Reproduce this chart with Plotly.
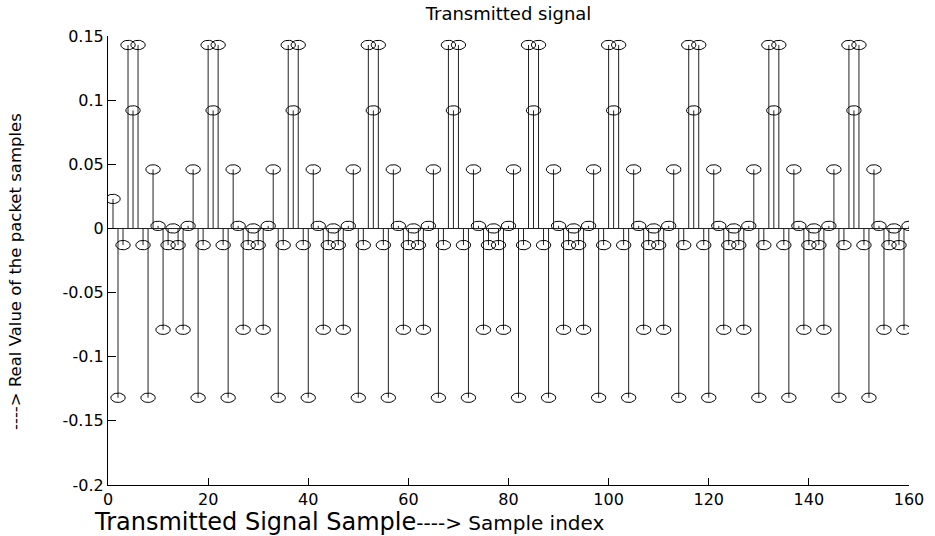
import numpy as np
import plotly.graph_objects as go

# Real part of the transmitted preamble (short training symbols), samples 1..160
sample_index = list(range(1, 161))
real_values = [
    0.023, -0.132, -0.013, 0.143, 0.092, 0.143, -0.013, -0.132, 0.046, 0.002, -0.079, -0.013, 0.000, -0.013, -0.079, 0.002,
    0.046, -0.132, -0.013, 0.143, 0.092, 0.143, -0.013, -0.132, 0.046, 0.002, -0.079, -0.013, 0.000, -0.013, -0.079, 0.002,
    0.046, -0.132, -0.013, 0.143, 0.092, 0.143, -0.013, -0.132, 0.046, 0.002, -0.079, -0.013, 0.000, -0.013, -0.079, 0.002,
    0.046, -0.132, -0.013, 0.143, 0.092, 0.143, -0.013, -0.132, 0.046, 0.002, -0.079, -0.013, 0.000, -0.013, -0.079, 0.002,
    0.046, -0.132, -0.013, 0.143, 0.092, 0.143, -0.013, -0.132, 0.046, 0.002, -0.079, -0.013, 0.000, -0.013, -0.079, 0.002,
    0.046, -0.132, -0.013, 0.143, 0.092, 0.143, -0.013, -0.132, 0.046, 0.002, -0.079, -0.013, 0.000, -0.013, -0.079, 0.002,
    0.046, -0.132, -0.013, 0.143, 0.092, 0.143, -0.013, -0.132, 0.046, 0.002, -0.079, -0.013, 0.000, -0.013, -0.079, 0.002,
    0.046, -0.132, -0.013, 0.143, 0.092, 0.143, -0.013, -0.132, 0.046, 0.002, -0.079, -0.013, 0.000, -0.013, -0.079, 0.002,
    0.046, -0.132, -0.013, 0.143, 0.092, 0.143, -0.013, -0.132, 0.046, 0.002, -0.079, -0.013, 0.000, -0.013, -0.079, 0.002,
    0.046, -0.132, -0.013, 0.143, 0.092, 0.143, -0.013, -0.132, 0.046, 0.002, -0.079, -0.013, 0.000, -0.013, -0.079, 0.002,
]

x_tick_vals = [0, 20, 40, 60, 80, 100, 120, 140, 160]
x_tick_text = ["0", "20", "40", "60", "80", "100", "120", "140", "160"]
y_tick_vals = [0.15, 0.1, 0.05, 0, -0.05, -0.1, -0.15, -0.2]
y_tick_text = ["0.15", "0.1", "0.05", "0", "-0.05", "-0.1", "-0.15", "-0.2"]

X_RANGE = [0, 160]
Y_RANGE = [-0.2, 0.15]
W, H = 935, 536
M_L, M_R, M_T, M_B = 108, 26, 36, 51
plot_w = W - M_L - M_R
plot_h = H - M_T - M_B

# stem lines from the zero baseline up/down to each sample
stem_x, stem_y = [], []
for xi, yi in zip(sample_index, real_values):
    stem_x += [xi, xi, None]
    stem_y += [0, yi, None]

# open oval markers (7 px x 4.7 px half-axes), traced in data units
rx = 7.2 * (X_RANGE[1] - X_RANGE[0]) / plot_w
ry = 4.7 * (Y_RANGE[1] - Y_RANGE[0]) / plot_h
t = np.linspace(0, 2 * np.pi, 33)
ell_x, ell_y = [], []
for xi, yi in zip(sample_index, real_values):
    ell_x += list(xi + rx * np.cos(t)) + [None]
    ell_y += list(yi + ry * np.sin(t)) + [None]

fig = go.Figure()
fig.add_trace(go.Scatter(x=stem_x, y=stem_y, mode="lines",
                         line=dict(color="#222222", width=1), hoverinfo="skip",
                         showlegend=False))
fig.add_trace(go.Scatter(x=ell_x, y=ell_y, mode="lines",
                         line=dict(color="#000000", width=1), hoverinfo="skip",
                         showlegend=False))

tick_font = dict(family="DejaVu Sans", size=16, color="black")

fig.update_layout(
    width=W, height=H,
    margin=dict(l=M_L, r=M_R, t=M_T, b=M_B),
    paper_bgcolor="white", plot_bgcolor="white",
    showlegend=False,
    title=dict(text="Transmitted signal", x=(M_L + plot_w / 2) / W, xanchor="center",
               y=1 - 14 / H, yanchor="middle",
               font=dict(family="DejaVu Sans", size=18, color="black")),
    xaxis=dict(range=X_RANGE, tickvals=x_tick_vals, ticktext=x_tick_text,
               showline=True, linecolor="black", linewidth=1, mirror=False,
               ticks="inside", ticklen=7, tickcolor="black", tickwidth=1,
               showgrid=False, zeroline=False, tickfont=tick_font),
    yaxis=dict(range=Y_RANGE, tickvals=y_tick_vals, ticktext=y_tick_text,
               showline=True, linecolor="black", linewidth=1, mirror=False,
               ticks="inside", ticklen=8, tickcolor="black", tickwidth=1,
               showgrid=False, zeroline=True, zerolinecolor="#222222", zerolinewidth=1,
               tickfont=tick_font),
    annotations=[
        dict(text="Transmitted Signal Sample<span style='font-size:20px'>----> Sample index</span>",
             xref="paper", yref="paper", x=(92 - M_L) / plot_w, y=-(522 - (M_T + plot_h)) / plot_h,
             xanchor="left", yanchor="middle", showarrow=False,
             font=dict(family="DejaVu Sans", size=24, color="black")),
        dict(text="----> Real Value of the packet samples",
             xref="paper", yref="paper", x=(15 - M_L) / plot_w, y=((M_T + plot_h) - 272) / plot_h,
             xanchor="center", yanchor="middle", textangle=-90, showarrow=False,
             font=dict(family="DejaVu Sans", size=16.5, color="black")),
    ],
)

fig.write_html("out.html")
